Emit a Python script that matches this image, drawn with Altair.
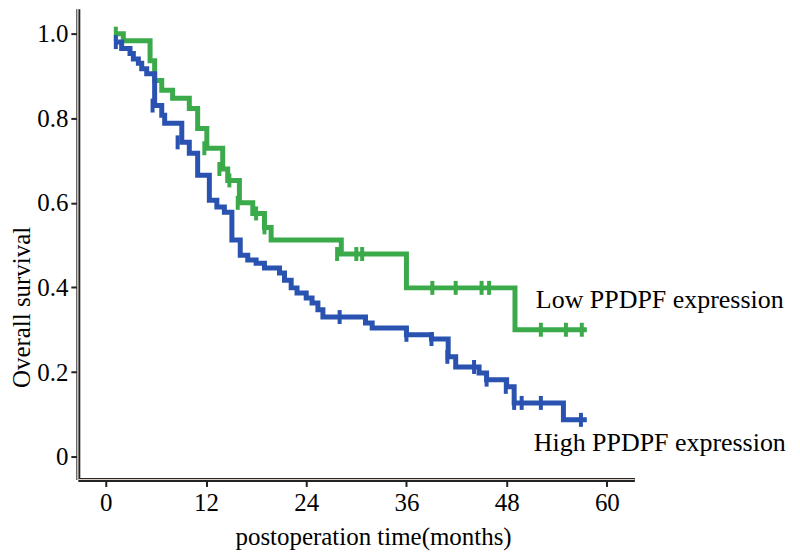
import altair as alt
import pandas as pd

# ---- data ----
low_time = [1.2, 2.1, 5.3, 5.85, 6.7, 8.0, 10.0, 11.0, 12.1, 14.0, 14.6, 16.0, 17.6, 19.0, 19.8, 28.2, 36.0, 49.0, 57.6]
low_surv = [1.0, 0.983, 0.936, 0.889, 0.866, 0.847, 0.823, 0.776, 0.729, 0.68, 0.653, 0.60, 0.575, 0.542, 0.512, 0.479, 0.399, 0.30, 0.30]
low_cens_time = [1.2, 11.8, 13.6, 14.8, 15.8, 18.0, 19.0, 27.7, 30.0, 30.7, 39.1, 41.9, 45.0, 45.9, 52.1, 55.1, 57.0]
low_cens_surv = [1.0, 0.729, 0.68, 0.653, 0.60, 0.575, 0.542, 0.479, 0.479, 0.479, 0.399, 0.399, 0.399, 0.399, 0.30, 0.30, 0.30]

high_time = [1.2, 1.9, 2.9, 3.3, 3.9, 4.3, 4.9, 5.85, 6.7, 7.05, 9.1, 10.0, 11.0, 12.4, 13.3, 14.2, 15.1, 16.1, 17.0, 18.0,
             19.0, 20.8, 21.4, 22.2, 22.9, 24.0, 24.7, 25.4, 26.0, 31.1, 31.9, 36.0, 39.0, 41.0, 41.9, 44.7, 45.6, 48.0,
             48.9, 54.8, 57.6]
high_surv = [0.98, 0.965, 0.953, 0.94, 0.93, 0.917, 0.905, 0.83, 0.807, 0.788, 0.743, 0.717, 0.665, 0.606, 0.59, 0.578,
             0.512, 0.476, 0.465, 0.457, 0.446, 0.434, 0.417, 0.399, 0.387, 0.375, 0.363, 0.347, 0.33, 0.316, 0.304,
             0.288, 0.278, 0.236, 0.212, 0.198, 0.182, 0.165, 0.127, 0.087, 0.087]
high_cens_time = [1.2, 5.6, 8.6, 28.0, 36.0, 39.0, 40.9, 44.1, 45.6, 47.9, 48.9, 49.8, 52.1, 56.9]
high_cens_surv = [0.98, 0.83, 0.743, 0.33, 0.288, 0.278, 0.236, 0.212, 0.182, 0.165, 0.127, 0.127, 0.127, 0.087]

groups = ["Low PPDPF expression", "High PPDPF expression"]
colors = ["#3aaa4a", "#2a52b0"]
label_time = [51.5, 51.25]
label_surv = [0.37, 0.033]

x_ticks = [0, 12, 24, 36, 48, 60]
y_ticks = [0, 0.2, 0.4, 0.6, 0.8, 1.0]

steps = pd.concat([
    pd.DataFrame({"time": low_time, "surv": low_surv, "group": groups[0]}),
    pd.DataFrame({"time": high_time, "surv": high_surv, "group": groups[1]}),
])
cens = pd.concat([
    pd.DataFrame({"time": low_cens_time, "surv": low_cens_surv, "group": groups[0]}),
    pd.DataFrame({"time": high_cens_time, "surv": high_cens_surv, "group": groups[1]}),
])
labels = pd.DataFrame({"time": label_time, "surv": label_surv, "group": groups})

W, H = 558, 472
FONT = "Liberation Serif"

xs = alt.Scale(domain=[-3.35, 63.3], nice=False, zero=False)
ys = alt.Scale(domain=[-0.054, 1.059], nice=False, zero=False)
cs = alt.Scale(domain=groups, range=colors)

x_enc = alt.X("time:Q", scale=xs, axis=alt.Axis(
    values=x_ticks, title="postoperation time(months)", titleX=296, titleY=57,
    titleBaseline="middle", titleAlign="center", labelPadding=4,
    labelFont=FONT, labelFontSize=25, titleFont=FONT, titleFontSize=25))
y_enc = alt.Y("surv:Q", scale=ys, axis=alt.Axis(
    values=y_ticks, title="Overall survival", titleX=-56, titleY=299,
    titleBaseline="middle", titleAlign="center", labelPadding=3,
    labelFont=FONT, labelFontSize=25, titleFont=FONT, titleFontSize=25,
    labelExpr="datum.value == 0 ? '0' : format(datum.value, '.1f')"))

lines = alt.Chart(steps).mark_line(interpolate="step-after", strokeWidth=5, strokeJoin="miter").encode(
    x=x_enc, y=y_enc, color=alt.Color("group:N", scale=cs, legend=None), detail="group:N")

ticks = alt.Chart(cens).mark_tick(orient="vertical", size=14, thickness=4, opacity=1).encode(
    x="time:Q", y="surv:Q", color=alt.Color("group:N", scale=cs, legend=None))

texts = alt.Chart(labels).mark_text(align="left", baseline="middle", font=FONT, fontSize=26, color="black").encode(
    x="time:Q", y="surv:Q", text="group:N")

inner_v = alt.Chart(labels).mark_rule(color="#d8d0c8", strokeWidth=1).encode(
    x=alt.value(0), y=alt.value(0), y2=alt.value(H))
inner_h = alt.Chart(labels).mark_rule(color="#d8d0c8", strokeWidth=1).encode(
    x=alt.value(0), x2=alt.value(W), y=alt.value(H))

chart = alt.layer(lines, ticks, texts, inner_v, inner_h).properties(
    width=W, height=H,
    autosize=alt.AutoSizeParams(type="none"),
    padding={"left": 70, "top": 0, "right": 158, "bottom": 71},
).configure_view(stroke=None).configure_axis(
    grid=False, domainColor="#222", domainWidth=4, tickColor="#222", tickWidth=2, tickSize=7,
    labelFont=FONT, labelFontSize=25, labelColor="black",
    titleFont=FONT, titleFontSize=25, titleFontWeight="normal", titleColor="black",
)

chart.save("out.html", embed_options={"renderer": "svg", "actions": False})
